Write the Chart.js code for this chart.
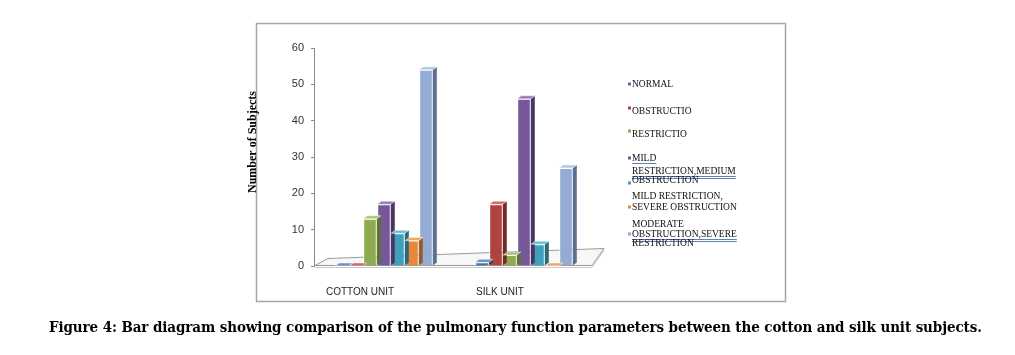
<!DOCTYPE html>
<html>
<head>
<meta charset="utf-8">
<script src="https://cdn.jsdelivr.net/npm/chart.js@4.4.1/dist/chart.umd.min.js"></script>
<style>
  html, body { margin: 0; padding: 0; background: #fff; }
  #wrap { position: relative; width: 1015px; height: 355px; overflow: hidden; }
  #c { position: absolute; left: 0; top: 0; }
  #caption {
    position: absolute; left: 49px; top: 318px; white-space: nowrap;
    font-family: "DejaVu Serif", serif; font-weight: bold; font-size: 15px;
    font-stretch: condensed; color: #000; letter-spacing: -0.1px;
  }
</style>
</head>
<body>
<div id="wrap">
  <canvas id="c" width="1015" height="355"></canvas>
  <div id="caption">Figure 4: Bar diagram showing comparison of the pulmonary function parameters between the cotton and silk unit subjects.</div>
</div>
<script>
// ---- data ----
const categories = ['COTTON UNIT', 'SILK UNIT'];
const normal = [0, 1];
const obstruction = [0, 17];
const restriction = [13, 3];
const mildRestrictionMediumObstruction = [17, 46];
const obstructionOnly = [9, 6];
const mildRestrictionSevereObstruction = [7, 0];
const moderateObstructionSevereRestriction = [54, 27];
const yTicks = [0, 10, 20, 30, 40, 50, 60];
const seriesNames = [
  'NORMAL', 'OBSTRUCTIO', 'RESTRICTIO', 'MILD RESTRICTION,MEDIUM', 'OBSTRUCTION',
  'MILD RESTRICTION, SEVERE OBSTRUCTION', 'MODERATE OBSTRUCTION,SEVERE RESTRICTION'
];
const legendLines = [
  ['NORMAL'],
  ['OBSTRUCTIO'],
  ['RESTRICTIO'],
  ['MILD', 'RESTRICTION,MEDIUM'],
  ['OBSTRUCTION'],
  ['MILD RESTRICTION,', 'SEVERE OBSTRUCTION'],
  ['MODERATE', 'OBSTRUCTION,SEVERE', 'RESTRICTION']
];
const yAxisTitle = 'Number of Subjects';

// ---- styles ----
const frontColors = ['#4a74a8', '#b0423f', '#8eab4f', '#76589a', '#3fa0ba', '#e5883a', '#94abd3'];
const sideColors  = ['#2c4668', '#762a28', '#5d7233', '#4a3566', '#286a7c', '#9c5a24', '#5c6f91'];
const topColors   = ['#6d90bd', '#c96a66', '#a9c274', '#9279b2', '#6cbbd0', '#f0a562', '#b3c6e4'];
const legendMarkerY = [84, 108, 131, 158, 183, 207, 234];
const legendLineY = [[84], [111], [134], [158, 171], [180], [196, 207], [224, 234, 243]];
const underlined = {'3-0': 1, '3-1': 2, '6-1': 2};

const allSeries = [normal, obstruction, restriction, mildRestrictionMediumObstruction,
  obstructionOnly, mildRestrictionSevereObstruction, moderateObstructionSevereRestriction];

const datasets = allSeries.map((d, i) => ({
  label: seriesNames[i],
  data: d,
  backgroundColor: frontColors[i],
  borderColor: 'rgba(255,255,255,0.85)',
  borderWidth: 1,
  categoryPercentage: 0.7,
  barPercentage: 0.97
}));

const DX = 4, DY = -3;

const framePlugin = {
  id: 'frame',
  beforeDraw(chart) {
    const ctx = chart.ctx;
    ctx.save();
    ctx.fillStyle = '#fff';
    ctx.fillRect(0, 0, chart.width, chart.height);
    ctx.strokeStyle = '#a6a6a6';
    ctx.lineWidth = 1.5;
    ctx.strokeRect(256.5, 23.5, 529, 278);
    ctx.restore();
  },
  beforeDatasetsDraw(chart) {
    const ctx = chart.ctx, a = chart.chartArea;
    const y0 = chart.scales.y.getPixelForValue(0);
    ctx.save();
    const fl = a.left + 1, fr = a.right - 2, fy = y0 - 0.5;
    ctx.beginPath();
    ctx.moveTo(fl, fy);
    ctx.lineTo(fl + 13, fy - 7);
    ctx.lineTo(fr + 12, fy - 17);
    ctx.lineTo(fr, fy);
    ctx.closePath();
    ctx.fillStyle = '#f7f7f7';
    ctx.fill();
    ctx.strokeStyle = '#9a9a9a';
    ctx.lineWidth = 1;
    ctx.stroke();
    ctx.beginPath();
    ctx.moveTo(fl, fy + 2);
    ctx.lineTo(fr, fy + 2);
    ctx.lineTo(fr + 12, fy - 15);
    ctx.strokeStyle = '#c8c8c8';
    ctx.stroke();
    ctx.restore();
  },
  afterDatasetsDraw(chart) {
    const ctx = chart.ctx;
    ctx.save();
    chart.data.datasets.forEach((ds, i) => {
      const meta = chart.getDatasetMeta(i);
      meta.data.forEach(el => {
        const l = el.x - el.width / 2, r = el.x + el.width / 2;
        const top = Math.min(el.y, el.base), bot = Math.max(el.y, el.base);
        ctx.beginPath();
        ctx.moveTo(r, top);
        ctx.lineTo(r + DX, top + DY);
        ctx.lineTo(r + DX, bot + DY);
        ctx.lineTo(r, bot);
        ctx.closePath();
        ctx.fillStyle = sideColors[i];
        ctx.fill();
        ctx.beginPath();
        ctx.moveTo(l, top);
        ctx.lineTo(l + DX, top + DY);
        ctx.lineTo(r + DX, top + DY);
        ctx.lineTo(r, top);
        ctx.closePath();
        ctx.fillStyle = topColors[i];
        ctx.fill();
        ctx.strokeStyle = 'rgba(255,255,255,0.6)';
        ctx.lineWidth = 0.8;
        ctx.stroke();
      });
    });
    ctx.restore();
  },
  afterDraw(chart) {
    const ctx = chart.ctx;
    ctx.save();
    ctx.translate(253, 142);
    ctx.rotate(-Math.PI / 2);
    ctx.font = 'bold 12px "Liberation Serif"';
    ctx.fillStyle = '#000';
    ctx.textAlign = 'center';
    ctx.textBaseline = 'middle';
    ctx.fillText(yAxisTitle, 0, 0);
    ctx.restore();
    ctx.save();
    ctx.font = '9.5px "Liberation Serif"';
    ctx.textBaseline = 'middle';
    ctx.textAlign = 'left';
    legendLines.forEach((lines, i) => {
      ctx.fillStyle = frontColors[i];
      ctx.fillRect(628, legendMarkerY[i] - 1.5, 3, 3);
      lines.forEach((t, j) => {
        const y = legendLineY[i][j];
        ctx.fillStyle = '#111';
        ctx.fillText(t, 632, y);
        const u = underlined[i + '-' + j];
        if (u) {
          const w = ctx.measureText(t).width;
          ctx.strokeStyle = '#3b5fa8';
          ctx.lineWidth = 0.8;
          ctx.beginPath();
          ctx.moveTo(632, y + 5.5); ctx.lineTo(632 + w, y + 5.5);
          if (u === 2) { ctx.moveTo(632, y + 7.5); ctx.lineTo(632 + w, y + 7.5); }
          ctx.stroke();
        }
      });
    });
    ctx.restore();
  }
};

new Chart(document.getElementById('c'), {
  type: 'bar',
  data: { labels: categories, datasets },
  options: {
    responsive: false,
    devicePixelRatio: 1,
    animation: false,
    layout: { padding: { left: 247, top: 48, right: 421, bottom: 59 } },
    plugins: { legend: { display: false }, tooltip: { enabled: false } },
    scales: {
      x: {
        grid: { display: false },
        border: { display: false },
        ticks: { labelOffset: -24, padding: 12, color: '#222', font: { family: 'Liberation Sans', size: 10 } },
        afterFit(s) { s.height = 30; }
      },
      y: {
        min: 0, max: 60,
        afterBuildTicks(s) { s.ticks = yTicks.map(v => ({ value: v })); },
        grid: { drawOnChartArea: false, drawTicks: true, tickLength: 3, color: '#8a8a8a' },
        border: { display: true, color: '#8a8a8a' },
        ticks: { padding: 7, color: '#333', font: { family: 'Liberation Sans', size: 11 } },
        afterFit(s) { s.width = 67; }
      }
    }
  },
  plugins: [framePlugin]
});
</script>
</body>
</html>
